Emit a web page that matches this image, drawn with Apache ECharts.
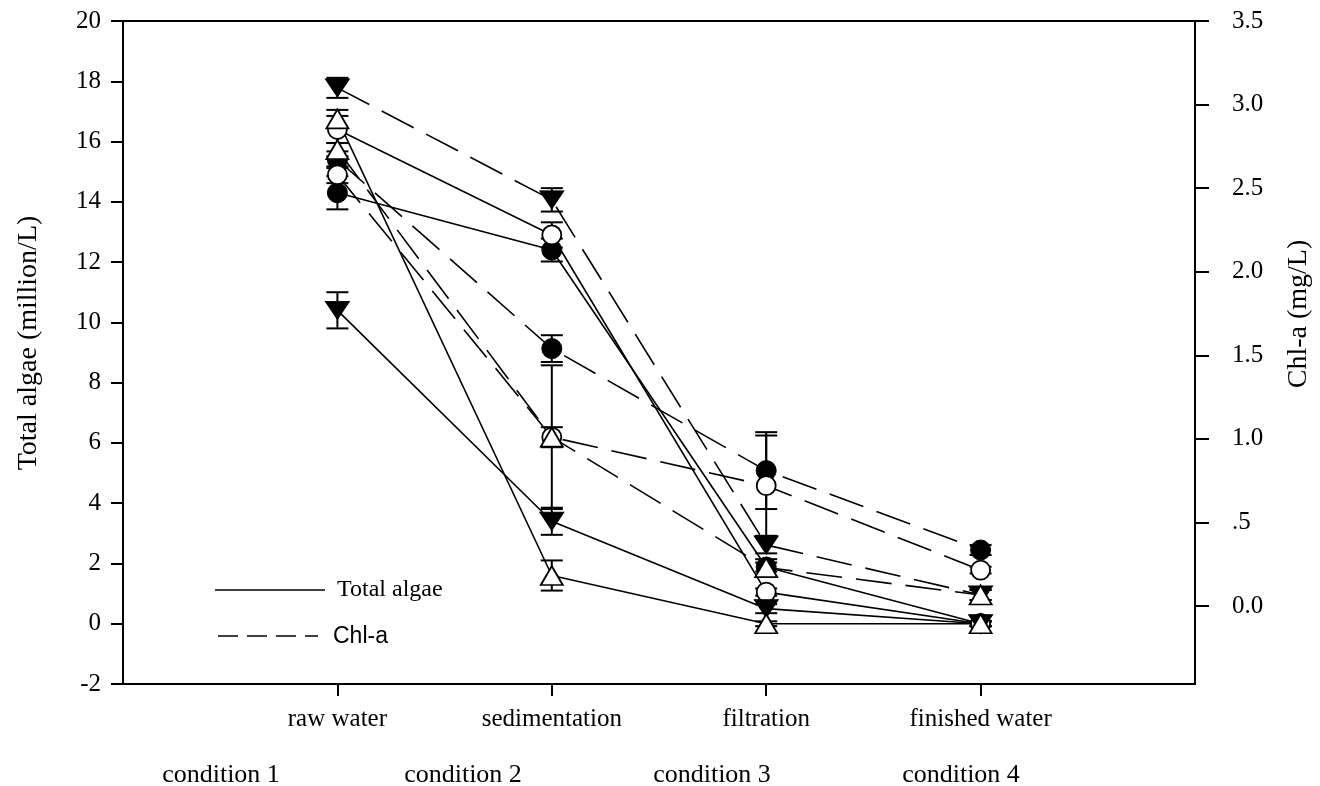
<!DOCTYPE html>
<html>
<head>
<meta charset="utf-8">
<script src="https://cdn.jsdelivr.net/npm/echarts@6/dist/echarts.min.js"></script>
<style>
html,body{margin:0;padding:0;background:#fff;}
#chart{width:1320px;height:786px;}
</style>
</head>
<body>
<div id="chart"></div>
<script>
// ---- data ----
const stages = ['raw water', 'sedimentation', 'filtration', 'finished water'];
const stageX = [1, 2, 3, 4];
const conditions = ['condition 1', 'condition 2', 'condition 3', 'condition 4'];
const leftTicks = [-2, 0, 2, 4, 6, 8, 10, 12, 14, 16, 18, 20];
const rightTicks = [0, 0.5, 1.0, 1.5, 2.0, 2.5, 3.0, 3.5];

// Total algae (million/L), solid lines, left axis
const algaeFilledCircle = [14.3, 12.4, 1.88, 0];
const algaeFilledCircleErr = [0.55, 0.38, 0.15, 0.08];
const algaeOpenCircle = [16.4, 12.9, 1.05, 0];
const algaeOpenCircleErr = [0.45, 0.42, 0.12, 0.08];
const algaeFilledDown = [10.4, 3.4, 0.5, 0];
const algaeFilledDownErr = [0.6, 0.45, 0.15, 0.08];
const algaeOpenUp = [16.75, 1.6, 0, 0];
const algaeOpenUpErr = [0.3, 0.5, 0.08, 0.08];

// Chl-a (mg/L), dashed lines, right axis
const chlFilledDown = [3.10, 2.43, 0.365, 0.066];
const chlFilledDownErr = [0.06, 0.07, 0.05, 0.03];
const chlFilledCircle = [2.67, 1.54, 0.81, 0.335];
const chlFilledCircleErr = [0.05, 0.08, 0.23, 0.03];
const chlOpenCircle = [2.58, 1.01, 0.72, 0.215];
const chlOpenCircleErr = [0.05, 0.43, 0.3, 0.02];
const chlOpenUp = [2.73, 1.01, 0.23, 0.066];
const chlOpenUpErr = [0.04, 0.06, 0.05, 0.03];

// ---- styles ----
const SERIF = '"Liberation Serif", "Times New Roman", serif';
const SANS = '"Liberation Sans", Arial, sans-serif';
const DASH = [36, 14];

const markers = {
  filledCircle: {symbol: 'circle', symbolSize: 20, symbolRotate: 0, itemStyle: {color: '#000', borderColor: '#000', borderWidth: 1}},
  openCircle: {symbol: 'circle', symbolSize: 19, symbolRotate: 0, itemStyle: {color: '#fff', borderColor: '#000', borderWidth: 1.8}},
  filledDown: {symbol: 'triangle', symbolSize: [24, 18], symbolRotate: 180, itemStyle: {color: '#000', borderColor: '#000', borderWidth: 1}},
  openUp: {symbol: 'triangle', symbolSize: [22, 19], symbolRotate: 0, itemStyle: {color: '#fff', borderColor: '#000', borderWidth: 1.8}}
};

function pairs(vals) { return vals.map((v, i) => [stageX[i], v]); }
function errPairs(vals, errs) { return vals.map((v, i) => [stageX[i], v - errs[i], v + errs[i]]); }

function lineSeries(name, vals, mk, axis, dashed, z) {
  const m = markers[mk];
  return {
    name: name, type: 'line', yAxisIndex: axis, data: pairs(vals),
    symbol: m.symbol, symbolSize: m.symbolSize, symbolRotate: m.symbolRotate,
    showAllSymbol: true, z: z,
    itemStyle: m.itemStyle,
    lineStyle: {color: '#000', width: 1.6, type: dashed ? DASH : 'solid'},
    emphasis: {disabled: true}, silent: true
  };
}

function errRender(params, api) {
  const x = api.value(0), lo = api.value(1), hi = api.value(2);
  const p1 = api.coord([x, hi]);
  const p2 = api.coord([x, lo]);
  const w = 11;
  const st = {stroke: '#000', lineWidth: 2};
  return {type: 'group', children: [
    {type: 'line', shape: {x1: p1[0], y1: p1[1], x2: p2[0], y2: p2[1]}, style: st},
    {type: 'line', shape: {x1: p1[0] - w, y1: p1[1], x2: p1[0] + w, y2: p1[1]}, style: st},
    {type: 'line', shape: {x1: p2[0] - w, y1: p2[1], x2: p2[0] + w, y2: p2[1]}, style: st}
  ]};
}
function errSeries(vals, errs, axis) {
  return {type: 'custom', yAxisIndex: axis, data: errPairs(vals, errs), renderItem: errRender,
          encode: {x: 0, y: [1, 2]}, z: 1, silent: true};
}

const series = [
  errSeries(algaeFilledCircle, algaeFilledCircleErr, 0),
  errSeries(algaeOpenCircle, algaeOpenCircleErr, 0),
  errSeries(algaeFilledDown, algaeFilledDownErr, 0),
  errSeries(algaeOpenUp, algaeOpenUpErr, 0),
  errSeries(chlFilledDown, chlFilledDownErr, 1),
  errSeries(chlFilledCircle, chlFilledCircleErr, 1),
  errSeries(chlOpenCircle, chlOpenCircleErr, 1),
  errSeries(chlOpenUp, chlOpenUpErr, 1),
  lineSeries('Total algae ●', algaeFilledCircle, 'filledCircle', 0, false, 3),
  lineSeries('Total algae ○', algaeOpenCircle, 'openCircle', 0, false, 3),
  lineSeries('Total algae ▼', algaeFilledDown, 'filledDown', 0, false, 3),
  lineSeries('Total algae △', algaeOpenUp, 'openUp', 0, false, 3),
  lineSeries('Chl-a ●', chlFilledCircle, 'filledCircle', 1, true, 4),
  lineSeries('Chl-a ○', chlOpenCircle, 'openCircle', 1, true, 4),
  lineSeries('Chl-a ▼', chlFilledDown, 'filledDown', 1, true, 4),
  lineSeries('Chl-a △', chlOpenUp, 'openUp', 1, true, 4)
];

const conditionX = [221, 463, 712, 961];

const option = {
  animation: false,
  backgroundColor: '#fff',
  grid: {left: 123, right: 125, top: 21, bottom: 102, show: true, borderColor: '#000', borderWidth: 2, backgroundColor: 'transparent'},
  xAxis: {
    type: 'value', min: 0, max: 5,
    axisLine: {show: true, onZero: false, lineStyle: {color: '#000', width: 2}},
    axisTick: {show: true, customValues: stageX, length: 12, lineStyle: {color: '#000', width: 2}},
    axisLabel: {customValues: stageX, formatter: v => stages[Math.round(v) - 1] || '',
                color: '#000', fontFamily: SERIF, fontSize: 25, margin: 23},
    splitLine: {show: false}
  },
  yAxis: [
    {
      type: 'value', min: -2, max: 20, interval: 2, position: 'left',
      axisLine: {show: true, onZero: false, lineStyle: {color: '#000', width: 2}},
      axisTick: {show: true, length: 12, lineStyle: {color: '#000', width: 2}},
      axisLabel: {color: '#000', fontFamily: SERIF, fontSize: 25, margin: 22},
      splitLine: {show: false}
    },
    {
      type: 'value', min: -0.4667, max: 3.5, position: 'right',
      axisLine: {show: true, onZero: false, lineStyle: {color: '#000', width: 2}},
      axisTick: {show: true, customValues: rightTicks, length: 14, lineStyle: {color: '#000', width: 2}},
      axisLabel: {customValues: rightTicks, color: '#000', fontFamily: SERIF, fontSize: 25, margin: 37,
                  formatter: v => (Math.abs(v - 0.5) < 1e-9 ? '.5' : v.toFixed(1))},
      splitLine: {show: false}
    }
  ],
  graphic: [
    {type: 'text', x: 29, y: 343, rotation: Math.PI / 2,
     style: {text: 'Total algae (million/L)', fill: '#000', font: '28px ' + SERIF, textAlign: 'center', textVerticalAlign: 'middle'}},
    {type: 'text', x: 1299, y: 314, rotation: Math.PI / 2,
     style: {text: 'Chl-a (mg/L)', fill: '#000', font: '28px ' + SERIF, textAlign: 'center', textVerticalAlign: 'middle'}},
    {type: 'line', shape: {x1: 215, y1: 590, x2: 325, y2: 590}, style: {stroke: '#000', lineWidth: 1.6}, z: 10},
    {type: 'text', x: 337, y: 590, style: {text: 'Total algae', fill: '#000', font: '24px ' + SERIF, textAlign: 'left', textVerticalAlign: 'middle'}, z: 10},
    {type: 'line', shape: {x1: 218, y1: 636, x2: 318, y2: 636}, style: {stroke: '#000', lineWidth: 1.6, lineDash: [20, 9]}, z: 10},
    {type: 'text', x: 333, y: 637, style: {text: 'Chl-a', fill: '#000', font: '23px ' + SANS, textAlign: 'left', textVerticalAlign: 'middle'}, z: 10}
  ].concat(conditions.map((c, i) => ({
    type: 'text', x: conditionX[i], y: 775,
    style: {text: c, fill: '#000', font: '26px ' + SERIF, textAlign: 'center', textVerticalAlign: 'middle'}
  }))),
  series: series
};

const chart = echarts.init(document.getElementById('chart'), null, {renderer: 'canvas'});
chart.setOption(option);
</script>
</body>
</html>
